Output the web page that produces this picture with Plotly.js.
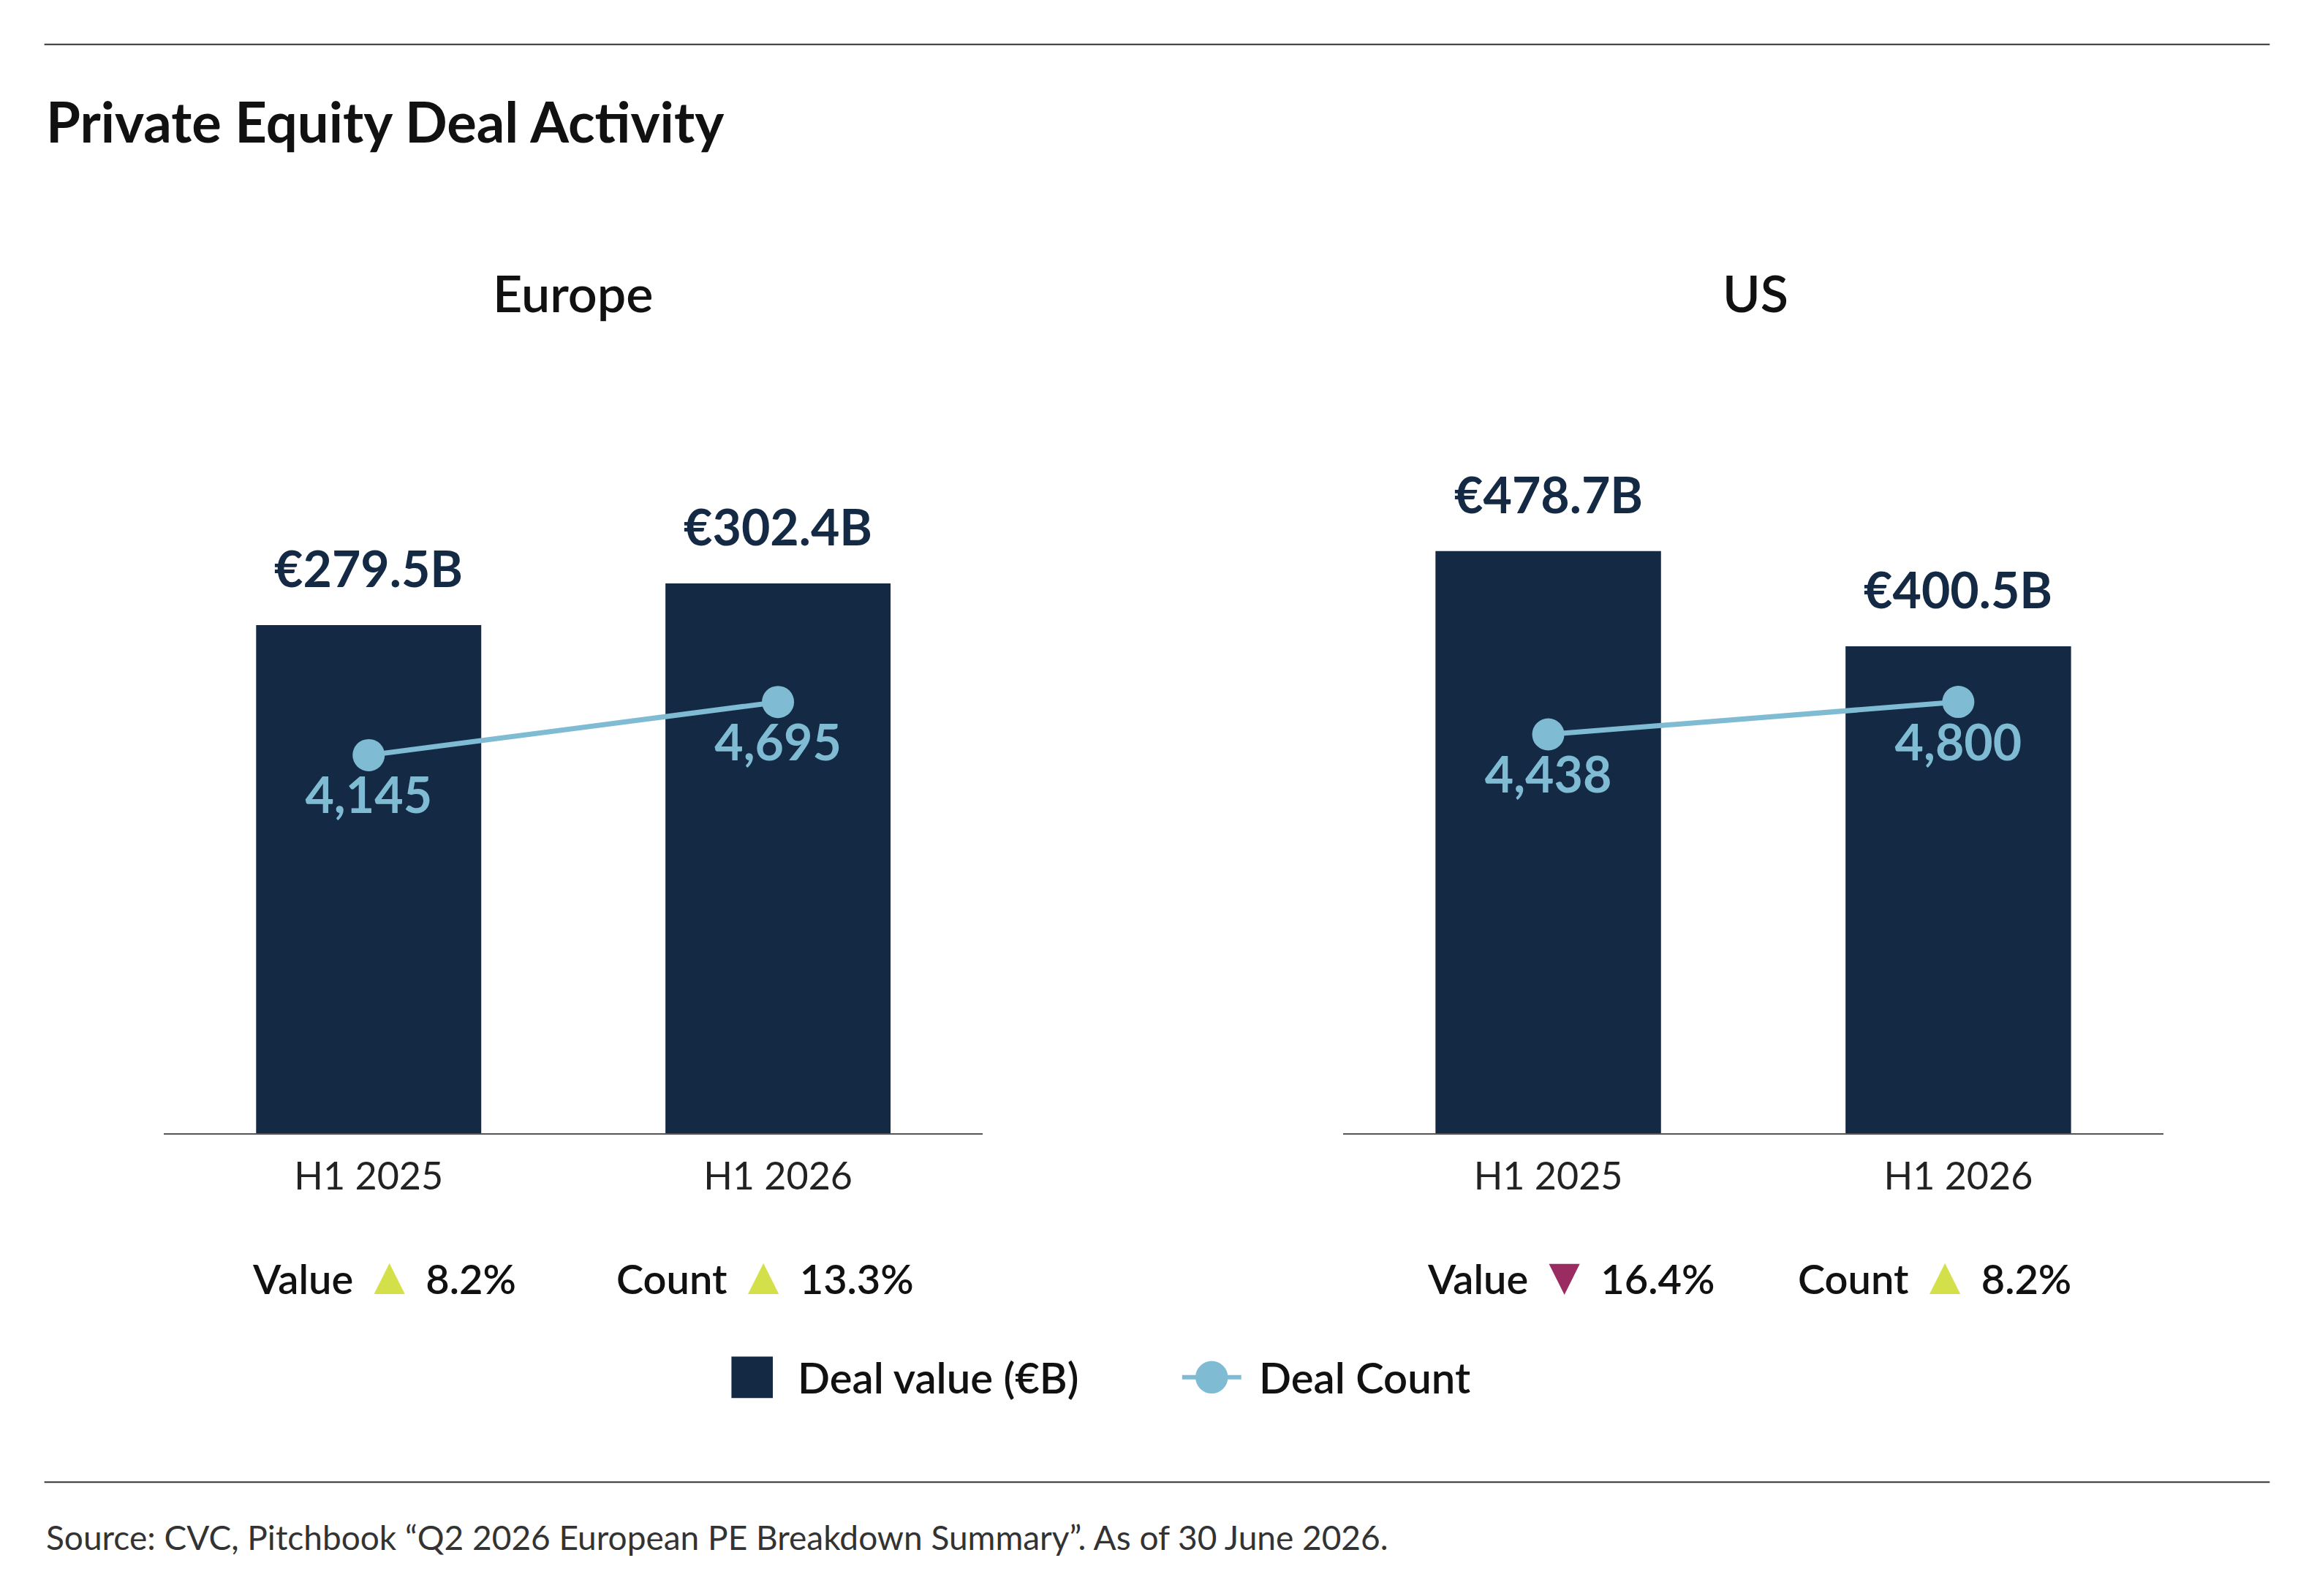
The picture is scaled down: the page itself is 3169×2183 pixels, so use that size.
<!DOCTYPE html>
<html>
<head>
<meta charset="utf-8">
<script src="https://cdn.plot.ly/plotly-3.0.1.min.js"></script>
<style>body{margin:0;background:#fff}</style>
</head>
<body>
<div id="chart" style="width:3169px;height:2183px"></div>
<script>
const periods = ["H1 2025", "H1 2026"];
const europeValue = [279.5, 302.4];
const europeCount = [4145, 4695];
const usValue = [478.7, 400.5];
const usCount = [4438, 4800];
const changeLabels = [
  {name: "Value", dir: "up", pct: "8.2%"},
  {name: "Count", dir: "up", pct: "13.3%"},
  {name: "Value", dir: "down", pct: "16.4%"},
  {name: "Count", dir: "up", pct: "8.2%"}
];

const NAVY = "#142a44", BLUE = "#7fbcd4", UP = "#d4e04a", DOWN = "#9b2c62";
const FONT = "Lato, 'Open Sans', sans-serif";
// reference was read at ~1568px wide, convert to paper coords
const px = x => x / 1568;
const py = y => 1 - y / 1080;

function bars(y, xa, ya) {
  return {
    type: "bar", x: periods, y: y, xaxis: xa, yaxis: ya,
    name: "Deal value (€B)", showlegend: false,
    marker: {color: NAVY}, hoverinfo: "skip"
  };
}
function counts(y, xa, ya) {
  return {
    type: "scatter", mode: "lines+markers+text", x: periods, y: y, xaxis: xa, yaxis: ya,
    name: "Deal Count", showlegend: false,
    line: {color: BLUE, width: 7},
    marker: {color: BLUE, size: 44},
    text: y.map(v => v.toLocaleString("en-US")),
    textposition: "bottom center", cliponaxis: false,
    textfont: {family: FONT, size: 68, color: BLUE, weight: 700},
    hoverinfo: "skip"
  };
}

const data = [
  bars(europeValue, "x", "y"),
  counts(europeCount, "x", "y2"),
  bars(usValue, "x2", "y3"),
  counts(usCount, "x2", "y4")
];

const yDom = [py(767), py(250)];
const xAxisBase = {
  type: "category", range: [-0.5, 1.5], showline: true, linecolor: "#555", linewidth: 2,
  showgrid: false, ticks: "outside", ticklen: 12, tickcolor: "rgba(0,0,0,0)", fixedrange: true,
  tickfont: {family: FONT, size: 52, color: "#222"}
};
const hiddenY = {visible: false, showgrid: false, zeroline: false, fixedrange: true};

const annotations = [
  {text: "Private Equity Deal Activity", x: px(30), y: py(82), xanchor: "left", yanchor: "middle",
   font: {family: FONT, size: 76, color: "#111", weight: 700}},
  {text: "Europe", x: px(388), y: py(198), xanchor: "center", yanchor: "middle",
   font: {family: FONT, size: 70, color: "#111", weight: 600}},
  {text: "US", x: px(1188), y: py(198), xanchor: "center", yanchor: "middle",
   font: {family: FONT, size: 70, color: "#111", weight: 600}},
  {text: "Source: CVC, Pitchbook “Q2 2026 European PE Breakdown Summary”. As of 30 June 2026.",
   x: px(30), y: py(1040), xanchor: "left", yanchor: "middle",
   font: {family: FONT, size: 46, color: "#333"}},
  {text: "Deal value (€B)", x: px(539), y: py(932), xanchor: "left", yanchor: "middle",
   font: {family: FONT, size: 58, color: "#111", weight: 600}},
  {text: "Deal Count", x: px(851), y: py(932), xanchor: "left", yanchor: "middle",
   font: {family: FONT, size: 58, color: "#111", weight: 600}}
];
annotations.forEach(a => { a.xref = "paper"; a.yref = "paper"; });

// value labels above bars, in data coords
[[europeValue, "x", "y"], [usValue, "x2", "y3"]].forEach(([vals, xa, ya]) => {
  vals.forEach((v, i) => annotations.push({
    text: "€" + v.toFixed(1) + "B", x: periods[i], y: v, xref: xa, yref: ya,
    xanchor: "center", yanchor: "bottom", yshift: 36,
    font: {family: FONT, size: 68, color: NAVY, weight: 700}
  }));
});

const changeX = [260, 518, 1063, 1309];
changeLabels.forEach((c, i) => {
  const tri = c.dir === "up"
    ? `<span style="color:${UP};font-size:72px">▲</span>` : `<span style="color:${DOWN};font-size:72px">▼</span>`;
  annotations.push({
    text: `${c.name} ${tri} ${c.pct}`, x: px(changeX[i]), y: py(862), xref: "paper", yref: "paper",
    xanchor: "center", yanchor: "middle",
    font: {family: FONT, size: 56, color: "#111", weight: 600}
  });
});
annotations.forEach(a => { a.showarrow = false; });

const layout = {
  width: 3169, height: 2183, margin: {l: 0, r: 0, t: 0, b: 0},
  paper_bgcolor: "#fff", plot_bgcolor: "rgba(0,0,0,0)",
  bargap: 0.45, showlegend: false,
  xaxis: Object.assign({}, xAxisBase, {domain: [px(111), px(665)], anchor: "y"}),
  yaxis: Object.assign({}, hiddenY, {domain: yDom, range: [0, 420], anchor: "x"}),
  yaxis2: Object.assign({}, hiddenY, {overlaying: "y", range: [234, 8133], anchor: "x"}),
  xaxis2: Object.assign({}, xAxisBase, {domain: [px(909), px(1464)], anchor: "y3"}),
  yaxis3: Object.assign({}, hiddenY, {domain: yDom, range: [0, 628], anchor: "x2"}),
  yaxis4: Object.assign({}, hiddenY, {overlaying: "y3", range: [-3, 8500], anchor: "x2"}),
  shapes: [
    {type: "line", xref: "paper", yref: "paper", x0: px(30), x1: px(1536), y0: py(30), y1: py(30),
     line: {color: "#333", width: 2}},
    {type: "line", xref: "paper", yref: "paper", x0: px(30), x1: px(1536), y0: py(1003), y1: py(1003),
     line: {color: "#333", width: 2}},
    // legend keys
    {type: "rect", xref: "paper", yref: "paper", x0: px(495), x1: px(523), y0: py(946), y1: py(918),
     fillcolor: NAVY, line: {width: 0}},
    {type: "line", xref: "paper", yref: "paper", x0: px(800), x1: px(840), y0: py(932), y1: py(932),
     line: {color: BLUE, width: 6}},
    {type: "circle", xref: "paper", yref: "paper", x0: px(809), x1: px(831),
     y0: py(932) - 11 / 1080, y1: py(932) + 11 / 1080, fillcolor: BLUE, line: {width: 0}}
  ],
  annotations: annotations
};

Plotly.newPlot("chart", data, layout, {displayModeBar: false, staticPlot: true});
</script>
</body>
</html>
